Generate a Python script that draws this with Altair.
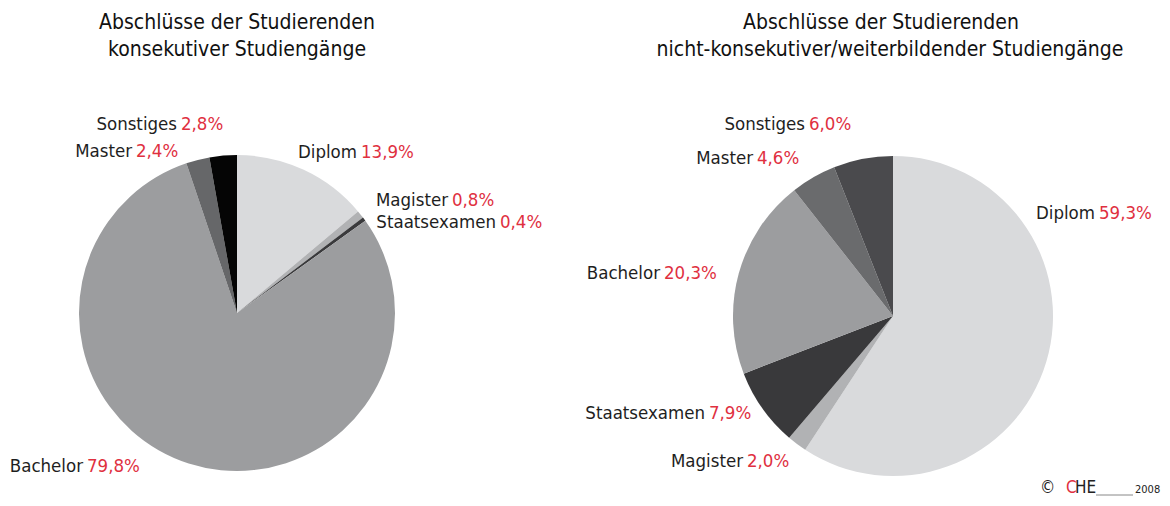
import altair as alt
import pandas as pd

# ---- data ----
categories = ["Diplom", "Magister", "Staatsexamen", "Bachelor", "Master", "Sonstiges"]
left_values = [13.9, 0.8, 0.4, 79.8, 2.4, 2.8]
right_values = [59.3, 2.0, 7.9, 20.3, 4.6, 6.0]
left_pct = ["13,9%", "0,8%", "0,4%", "79,8%", "2,4%", "2,8%"]
right_pct = ["59,3%", "2,0%", "7,9%", "20,3%", "4,6%", "6,0%"]
left_colors = ["#d9dadc", "#b1b2b4", "#3a3a3c", "#9c9d9f", "#666769", "#050505"]
right_colors = ["#d9dadc", "#b1b2b4", "#39393b", "#9c9d9f", "#6a6b6d", "#4a4a4d"]
left_title = ["Abschlüsse der Studierenden", "konsekutiver Studiengänge"]
right_title = ["Abschlüsse der Studierenden", "nicht-konsekutiver/weiterbildender Studiengänge"]

# label anchor points (gap between name and percentage), chart pixels
left_label_x = [351, 442, 490, 77, 126, 171]
left_label_y = [144, 192, 214, 458, 143, 116]
right_label_x = [1089, 737, 699, 654, 747, 799]
right_label_y = [205, 453, 405, 265, 150, 116]

FONT = "DejaVu Sans Condensed"
RED = "#e0303f"
W, H = 1154, 490

left = pd.DataFrame({"cat": categories, "v": left_values, "col": left_colors,
                     "order": list(range(6))})
right = pd.DataFrame({"cat": categories, "v": right_values, "col": right_colors,
                      "order": list(range(6))})

labels = pd.DataFrame({
    "name": categories + categories,
    "pct": left_pct + right_pct,
    "ax": left_label_x + right_label_x,
    "ay": left_label_y + right_label_y,
})

titles = pd.DataFrame({
    "t": left_title + right_title,
    "tx": [229, 229, 873, 882],
    "ty": [15, 42, 15, 42],
})


def pie(df, cx, cy, r):
    return alt.Chart(df).mark_arc(outerRadius=r, stroke=None).encode(
        theta=alt.Theta("v:Q", stack=True),
        order=alt.Order("order:Q"),
        color=alt.Color("col:N", scale=None),
        x=alt.value(cx),
        y=alt.value(cy),
    )


pie_left = pie(left, 229, 305, 158)
pie_right = pie(right, 885, 308, 160)

names = alt.Chart(labels).mark_text(
    font=FONT, fontSize=18.5, align="right", baseline="middle", dx=-2, color="#1e1e1e"
).encode(x=alt.X("ax:Q", scale=None), y=alt.Y("ay:Q", scale=None), text="name:N")

pcts = alt.Chart(labels).mark_text(
    font=FONT, fontSize=18.5, align="left", baseline="middle", dx=2, color=RED
).encode(x=alt.X("ax:Q", scale=None), y=alt.Y("ay:Q", scale=None), text="pct:N")

title_marks = alt.Chart(titles).mark_text(
    font=FONT, fontSize=21, align="center", baseline="middle", color="#111111"
).encode(x=alt.X("tx:Q", scale=None), y=alt.Y("ty:Q", scale=None), text="t:N")

logo = pd.DataFrame({
    "t": ["©", "C", "HE", "2008"],
    "lx": [1032, 1058, 1067, 1127],
    "ly": [480, 480, 480, 482],
    "c": ["#222222", RED, "#222222", "#222222"],
    "s": [17, 17, 17, 11],
})
logo_marks = alt.Chart(logo).mark_text(
    font=FONT, align="left", baseline="middle"
).encode(
    x=alt.X("lx:Q", scale=None), y=alt.Y("ly:Q", scale=None), text="t:N",
    color=alt.Color("c:N", scale=None), size=alt.Size("s:Q", scale=None),
)
logo_line = alt.Chart(pd.DataFrame({"k": [0]})).mark_rule(
    color="#888888", strokeWidth=1
).encode(x=alt.value(1088), x2=alt.value(1125), y=alt.value(487))

chart = alt.layer(
    pie_left, pie_right, names, pcts, title_marks, logo_marks, logo_line
).resolve_scale(theta="independent").properties(
    width=W, height=H,
    autosize=alt.AutoSizeParams(type="fit", contains="padding"),
    padding=0,
).configure_view(stroke=None)

chart.save("out.html", embed_options={"renderer": "svg", "actions": False})
